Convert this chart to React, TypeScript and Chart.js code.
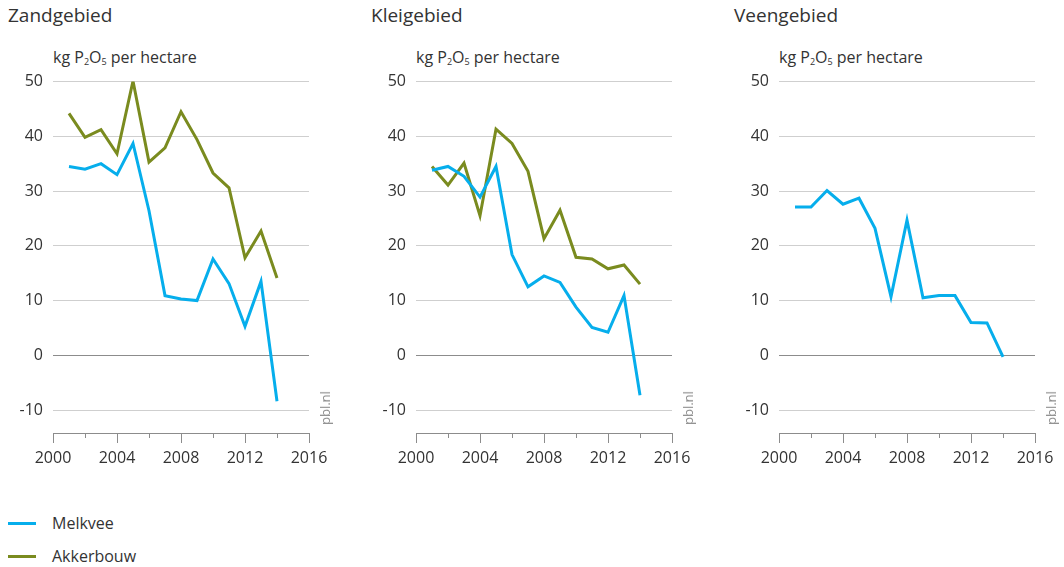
import React, { useEffect, useRef } from "react";
import { Chart, registerables } from "chart.js";

Chart.register(...registerables);

const years = [2001, 2002, 2003, 2004, 2005, 2006, 2007, 2008, 2009, 2010, 2011, 2012, 2013, 2014];
const zandMelkvee = [34.5, 34.0, 35.0, 33.0, 38.7, 26.4, 10.9, 10.3, 10.0, 17.6, 13.1, 5.3, 13.5, -8.4];
const zandAkkerbouw = [44.2, 39.8, 41.2, 36.8, 50.1, 35.3, 37.9, 44.5, 39.4, 33.3, 30.6, 17.8, 22.7, 14.1];
const kleiMelkvee = [33.8, 34.5, 32.7, 28.9, 34.5, 18.4, 12.5, 14.5, 13.3, 8.8, 5.1, 4.2, 10.9, -7.3];
const kleiAkkerbouw = [34.5, 31.1, 35.1, 25.5, 41.3, 38.7, 33.6, 21.3, 26.5, 17.9, 17.6, 15.8, 16.5, 13.0];
const veenMelkvee = [27.1, 27.1, 30.1, 27.6, 28.7, 23.2, 10.7, 24.7, 10.5, 10.9, 10.9, 6.0, 5.9, -0.3];
const yTicks = [-10, 0, 10, 20, 30, 40, 50];
const xMajorTicks = [2000, 2004, 2008, 2012, 2016];
const xMinorTicks = [2002, 2006, 2010, 2014];
const panelTitles = ["Zandgebied", "Kleigebied", "Veengebied"];
const seriesNames = ["Melkvee", "Akkerbouw"];

const BLUE = "#06aeec";
const OLIVE = "#7a8b1f";
const FONT = "'Open Sans', 'Noto Sans', sans-serif";
const TEXT = "#333333";

const minorTickPlugin = {
  id: "minorTicks",
  afterDraw(chart: any) {
    const xs = chart.scales.x;
    const ctx = chart.ctx;
    const y = chart.chartArea.bottom;
    ctx.save();
    ctx.strokeStyle = "#8c8c8c";
    ctx.lineWidth = 1;
    for (const v of xMinorTicks) {
      const px = Math.round(xs.getPixelForValue(v)) + 0.5;
      ctx.beginPath();
      ctx.moveTo(px, y);
      ctx.lineTo(px, y + 5);
      ctx.stroke();
    }
    ctx.restore();
  },
};

function Panel({ idx, series }: { idx: number; series: { name: string; data: number[]; color: string }[] }) {
  const ref = useRef<HTMLCanvasElement>(null);
  useEffect(() => {
    if (!ref.current) return;
    const chart = new Chart(ref.current, {
      type: "line",
      data: {
        datasets: series.map((s) => ({
          label: s.name,
          data: years.map((yr, i) => ({ x: yr, y: s.data[i] })),
          borderColor: s.color,
          backgroundColor: s.color,
          borderWidth: 3,
          pointRadius: 0,
          tension: 0,
          fill: false,
        })),
      },
      options: {
        animation: false,
        responsive: false,
        maintainAspectRatio: false,
        layout: { padding: { top: 0, right: 45, bottom: 0, left: 0 } },
        plugins: { legend: { display: false }, tooltip: { enabled: false }, title: { display: false } },
        scales: {
          x: {
            type: "linear",
            min: 2000,
            max: 2016,
            afterBuildTicks: (s: any) => {
              s.ticks = xMajorTicks.map((v) => ({ value: v }));
            },
            afterFit: (s: any) => {
              s.height = 40;
            },
            grid: { drawOnChartArea: false, drawTicks: true, tickLength: 10, color: "#8c8c8c" },
            border: { display: true, color: "#8c8c8c", width: 1 },
            ticks: {
              padding: 6,
              color: TEXT,
              font: { family: FONT, size: 16 },
              maxRotation: 0,
              autoSkip: false,
              callback: (v: any) => String(v),
            },
          },
          y: {
            min: -14.2,
            max: 50,
            afterBuildTicks: (s: any) => {
              s.ticks = yTicks.map((v) => ({ value: v }));
            },
            afterFit: (s: any) => {
              s.width = 45;
            },
            grid: {
              drawTicks: false,
              color: (c: any) => (c.tick && c.tick.value === 0 ? "#8c8c8c" : "#cfcfcf"),
              lineWidth: 1,
            },
            border: { display: false },
            ticks: {
              padding: 10,
              color: TEXT,
              font: { family: FONT, size: 16 },
              callback: (v: any) => String(v),
            },
          },
        },
      },
      plugins: [minorTickPlugin],
    });
    return () => chart.destroy();
  }, []);
  const left = 8 + 363 * idx;
  return (
    <>
      <div style={{ position: "absolute", left: left, top: 3, fontSize: 19, color: TEXT, fontFamily: FONT, lineHeight: "24px" }}>
        {panelTitles[idx]}
      </div>
      <div style={{ position: "absolute", left: left + 45, top: 46, fontSize: 16, color: TEXT, fontFamily: FONT, lineHeight: "22px", whiteSpace: "nowrap" }}>
        kg P<sub style={{ fontSize: 9, verticalAlign: "-2px" }}>2</sub>O<sub style={{ fontSize: 9, verticalAlign: "-2px" }}>5</sub> per hectare
      </div>
      <canvas ref={ref} width={346} height={411} style={{ position: "absolute", left: left, top: 62, width: 346, height: 411 }} />
      <div
        style={{
          position: "absolute",
          left: left + 309,
          top: 377,
          width: 16,
          height: 48,
          fontSize: 13,
          color: "#8c8c8c",
          fontFamily: FONT,
          writingMode: "vertical-rl",
          transform: "rotate(180deg)",
          lineHeight: "16px",
          textAlign: "left",
        }}
      >
        pbl.nl
      </div>
    </>
  );
}

export default function App() {
  return (
    <div style={{ position: "fixed", left: 0, top: 0, width: 1064, height: 567, background: "#fff", overflow: "hidden" }}>
      <Panel idx={0} series={[{ name: seriesNames[0], data: zandMelkvee, color: BLUE }, { name: seriesNames[1], data: zandAkkerbouw, color: OLIVE }]} />
      <Panel idx={1} series={[{ name: seriesNames[0], data: kleiMelkvee, color: BLUE }, { name: seriesNames[1], data: kleiAkkerbouw, color: OLIVE }]} />
      <Panel idx={2} series={[{ name: seriesNames[0], data: veenMelkvee, color: BLUE }]} />
      {seriesNames.map((n, i) => (
        <div key={n} style={{ position: "absolute", left: 8, top: 512 + 33 * i, height: 22, display: "flex", alignItems: "center", fontFamily: FONT, fontSize: 16, color: TEXT }}>
          <span style={{ display: "inline-block", width: 28, height: 3, background: i === 0 ? BLUE : OLIVE, marginRight: 16 }} />
          {n}
        </div>
      ))}
    </div>
  );
}
